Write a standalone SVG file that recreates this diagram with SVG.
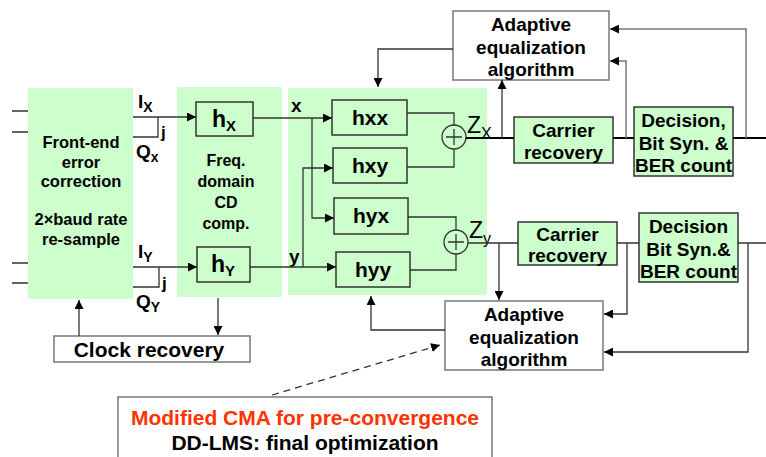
<svg xmlns="http://www.w3.org/2000/svg" width="766" height="457" viewBox="0 0 766 457">
<defs>
<marker id="ah" viewBox="0 0 10 10" refX="10" refY="5" markerWidth="9" markerHeight="9" markerUnits="userSpaceOnUse" orient="auto">
<path d="M0,0 L10,5 L0,10 z" fill="#000"/>
</marker>
<style>
.t{font-family:"Liberation Sans",Arial,sans-serif;font-weight:bold;fill:#000;text-anchor:middle}
.s{font-family:"Liberation Sans",Arial,sans-serif;font-weight:bold;fill:#000}
.n{font-family:"Liberation Sans",Arial,sans-serif;fill:#000}
.g{fill:#ccffcc;stroke:none}
.b{fill:#ccffcc;stroke:#333;stroke-width:1.5}
.w{fill:#fff;stroke:#777;stroke-width:1.5}
.l{fill:none;stroke:#333;stroke-width:1.3}
.a{fill:none;stroke:#333;stroke-width:1.3;marker-end:url(#ah)}
.k{fill:none;stroke:#000;stroke-width:2.2}
.fa{fill:none;stroke:#777;stroke-width:1.5;marker-end:url(#ah)}
</style>
</defs>
<rect width="766" height="457" fill="#fff"/>

<g id="frontend">
<rect class="g" x="28" y="88" width="105" height="211"/>
<text class="t" font-size="16.5"><tspan x="81" y="148">Front-end</tspan><tspan x="81" y="168">error</tspan><tspan x="81" y="187">correction</tspan><tspan x="81" y="225">2×baud rate</tspan><tspan x="81" y="245">re-sample</tspan></text>
</g>

<g id="cdcomp">
<rect class="g" x="177" y="87" width="105" height="210"/>
<text class="t" font-size="16"><tspan x="226" y="166">Freq.</tspan><tspan x="226" y="187">domain</tspan><tspan x="226" y="208">CD</tspan><tspan x="226" y="229">comp.</tspan></text>
</g>

<g id="mimo">
<rect class="g" x="288" y="88" width="199" height="207"/>
</g>

<g id="hX">
<rect class="b" x="196" y="102" width="57" height="34"/>
<text class="t" font-size="23" x="224" y="127">h<tspan font-size="15" dy="4">X</tspan></text>
</g>
<g id="hY">
<rect class="b" x="197" y="247" width="53" height="35"/>
<text class="t" font-size="23" x="223" y="272">h<tspan font-size="15" dy="4">Y</tspan></text>
</g>

<g id="hxx"><rect class="b" x="332" y="100" width="75" height="35"/><text class="t" font-size="21" x="370" y="125">hxx</text></g>
<g id="hxy"><rect class="b" x="333" y="148" width="74" height="35"/><text class="t" font-size="21" x="370" y="173">hxy</text></g>
<g id="hyx"><rect class="b" x="334" y="198" width="74" height="36"/><text class="t" font-size="21" x="371" y="223">hyx</text></g>
<g id="hyy"><rect class="b" x="336" y="252" width="74" height="35"/><text class="t" font-size="21" x="373" y="277">hyy</text></g>

<g id="adderX">
<circle cx="454" cy="137" r="12" fill="none" stroke="#333" stroke-width="1.3"/>
<path class="l" d="M446,137 H462 M454,129 V145"/>
</g>
<g id="adderY">
<circle cx="456" cy="242" r="12" fill="none" stroke="#333" stroke-width="1.3"/>
<path class="l" d="M448,242 H464 M456,234 V250"/>
</g>

<g id="carrierX"><rect class="b" x="514" y="117" width="99" height="46"/><text class="t" font-size="19"><tspan x="563.5" y="137">Carrier</tspan><tspan x="563.5" y="159">recovery</tspan></text></g>
<g id="decisionX"><rect class="b" x="634" y="107" width="99" height="69"/><text class="t" font-size="19"><tspan x="683.5" y="127">Decision,</tspan><tspan x="683.5" y="150">Bit Syn. &amp;</tspan><tspan x="683.5" y="172">BER count</tspan></text></g>
<g id="carrierY"><rect class="b" x="518" y="222" width="99" height="43"/><text class="t" font-size="19"><tspan x="567.5" y="241">Carrier</tspan><tspan x="567.5" y="262">recovery</tspan></text></g>
<g id="decisionY"><rect class="b" x="639" y="213" width="99" height="69"/><text class="t" font-size="19"><tspan x="688.5" y="233">Decision</tspan><tspan x="688.5" y="256">Bit Syn.&amp;</tspan><tspan x="688.5" y="278">BER count</tspan></text></g>

<g id="adaptiveTop"><rect class="w" x="453" y="11" width="156" height="69"/><text class="t" font-size="19"><tspan x="531" y="31">Adaptive</tspan><tspan x="531" y="54">equalization</tspan><tspan x="531" y="76">algorithm</tspan></text></g>
<g id="adaptiveBottom"><rect class="w" x="445" y="301" width="158" height="69"/><text class="t" font-size="19"><tspan x="524" y="321">Adaptive</tspan><tspan x="524" y="344">equalization</tspan><tspan x="524" y="366">algorithm</tspan></text></g>

<g id="clock"><rect class="w" x="54" y="336" width="196" height="26"/><text class="t" font-size="21" x="149" y="357">Clock recovery</text></g>

<g id="note"><rect class="w" x="118" y="397" width="374" height="75"/>
<text class="t" font-size="21" x="305" y="425" style="fill:#ff3300">Modified CMA for pre-convergence</text>
<text class="t" font-size="21" x="305" y="450">DD-LMS: final optimization</text>
</g>

<g id="labels">
<text class="s" font-size="19" x="138" y="108">I<tspan font-size="14" dy="4">X</tspan></text>
<text class="s" font-size="19" x="136" y="158">Q<tspan font-size="14" dy="4">x</tspan></text>
<text class="s" font-size="17" x="161" y="138">j</text>
<text class="s" font-size="19" x="138" y="258">I<tspan font-size="14" dy="4">Y</tspan></text>
<text class="s" font-size="19" x="136" y="308">Q<tspan font-size="14" dy="4">Y</tspan></text>
<text class="s" font-size="17" x="162" y="289">j</text>
<text class="s" font-size="19" x="291" y="112">x</text>
<text class="s" font-size="19" x="289" y="263">y</text>
<text class="n" font-size="23" x="467" y="133">Z<tspan font-size="16" dy="6">X</tspan></text>
<text class="n" font-size="23" x="469" y="238">Z<tspan font-size="16" dy="6">y</tspan></text>
</g>

<g id="connectors">
<path class="l" d="M12,111 H28 M12,132 H28 M12,263 H28 M12,283 H28"/>
<path class="a" d="M133,117 H196"/>
<path class="l" d="M133,137 H158 V117"/>
<path class="a" d="M133,267 H197"/>
<path class="l" d="M133,287 H159 V267"/>
<path class="a" d="M253,118 H332"/>
<path class="a" d="M312,118 V218 H334"/>
<path class="a" d="M250,267 H336"/>
<path class="a" d="M303,267 V168 H333"/>
<path class="l" d="M407,113 H454 V125"/>
<path class="l" d="M407,167 H454 V149"/>
<path class="l" d="M408,217 H456 V230"/>
<path class="l" d="M410,270 H456 V254"/>
<path class="k" d="M466,138 H514 M613,138 H634 M733,138 H766"/>
<path class="a" d="M502,138 V80"/>
<path class="fa" d="M626,138 V61 H610"/>
<path class="fa" d="M746,138 V29 H610"/>
<path class="l" d="M468,243 H518 M617,243 H639 M738,243 H766" stroke-width="1.6"/>
<path class="a" d="M499,243 V300"/>
<path class="a" d="M627,243 V314 H604"/>
<path class="a" d="M748,243 V352 H604"/>
<path class="a" d="M453,49 H378 V87"/>
<path class="a" d="M445,330 H371 V296"/>
<path class="a" d="M79,336 V300"/>
<path class="a" d="M218,298 V335"/>
<path class="a" d="M272,395 L440,345" stroke-dasharray="7,5"/>
</g>
</svg>
